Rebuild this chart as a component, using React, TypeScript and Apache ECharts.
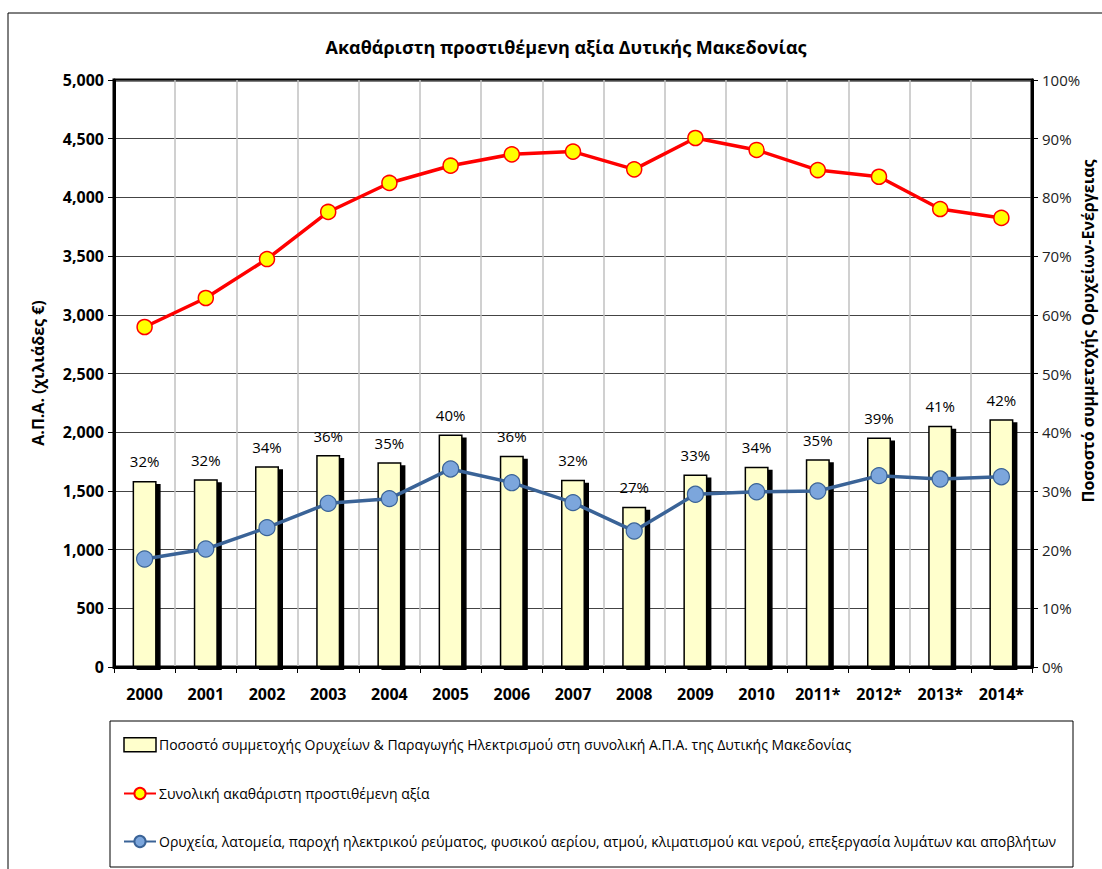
import React, { useEffect, useRef } from "react";
import * as echarts from "echarts";

const years = ["2000", "2001", "2002", "2003", "2004", "2005", "2006", "2007", "2008", "2009", "2010", "2011*", "2012*", "2013*", "2014*"];
const sharePct = [31.7, 32.0, 34.2, 36.1, 34.9, 39.6, 36.0, 31.9, 27.3, 32.8, 34.1, 35.4, 39.1, 41.1, 42.2];
const totalGva = [2896, 3143, 3475, 3876, 4123, 4270, 4367, 4390, 4239, 4506, 4404, 4233, 4176, 3901, 3825];
const miningGva = [920, 1005, 1187, 1394, 1434, 1687, 1570, 1400, 1158, 1471, 1493, 1499, 1630, 1601, 1621];

const titleText = "Ακαθάριστη προστιθέμενη αξία Δυτικής Μακεδονίας";
const leftAxisName = "Α.Π.Α. (χιλιάδες €)";
const rightAxisName = "Ποσοστό συμμετοχής Ορυχείων-Ενέργειας";
const barName = "Ποσοστό συμμετοχής Ορυχείων & Παραγωγής Ηλεκτρισμού στη συνολική Α.Π.Α. της Δυτικής Μακεδονίας";
const totalName = "Συνολική ακαθάριστη προστιθέμενη αξία";
const miningName = "Ορυχεία, λατομεία, παροχή ηλεκτρικού ρεύματος, φυσικού αερίου, ατμού, κλιματισμού και νερού, επεξεργασία λυμάτων και αποβλήτων";

const FONT = "'Open Sans', 'Noto Sans', sans-serif";

export default function App() {
  const ref = useRef<HTMLDivElement>(null);
  useEffect(() => {
    if (!ref.current) return;
    const chart = echarts.init(ref.current, undefined, { renderer: "svg" });
    chart.setOption({
      animation: false,
      backgroundColor: "#fff",
      textStyle: { fontFamily: FONT },
      title: {
        text: titleText,
        left: 561,
        top: 33,
        textAlign: "center",
        textStyle: { fontSize: 18, fontWeight: "bold", color: "#000", fontFamily: FONT },
      },
      grid: {
        left: 114,
        right: 70,
        top: 80,
        bottom: 202,
        show: true,
        borderColor: "#000",
        borderWidth: 3,
      },
      legend: {
        orient: "vertical",
        left: 118,
        top: 732,
        itemGap: 34,
        itemWidth: 32,
        itemHeight: 14,
        textStyle: { fontSize: 14, color: "#000", fontFamily: FONT, padding: [0, 0, 0, -2] },
        data: [
          { name: barName, icon: "rect", itemStyle: { color: "#FFFFCC", borderColor: "#000", borderWidth: 1.5 } },
          { name: totalName },
          { name: miningName },
        ],
      },
      xAxis: {
        type: "category",
        data: years,
        axisLine: { lineStyle: { color: "#000", width: 3 } },
        axisTick: { show: true, length: 6, lineStyle: { color: "#000", width: 1 } },
        axisLabel: { fontSize: 16, fontWeight: "bold", color: "#000", margin: 19, fontFamily: FONT },
        splitLine: { show: true, interval: 0, lineStyle: { color: "#c0c0c0", width: 1.5 } },
      },
      yAxis: [
        {
          type: "value",
          min: 0,
          max: 5000,
          interval: 500,
          position: "left",
          axisLine: { show: true, lineStyle: { color: "#000", width: 3 } },
          axisTick: { show: true, length: 6, lineStyle: { color: "#000", width: 1 } },
          axisLabel: {
            fontSize: 16,
            fontWeight: "bold",
            color: "#000",
            margin: 10,
            fontFamily: FONT,
            formatter: (v: number) => v.toLocaleString("en-US"),
          },
          splitLine: { show: true, lineStyle: { color: "#444", width: 1.2 } },
        },
        {
          type: "value",
          min: 0,
          max: 100,
          interval: 10,
          position: "right",
          axisLine: { show: true, lineStyle: { color: "#000", width: 3 } },
          axisTick: { show: true, length: 6, lineStyle: { color: "#000", width: 1 } },
          axisLabel: { fontSize: 15, color: "#222", margin: 10, fontFamily: FONT, formatter: "{value}%" },
          splitLine: { show: false },
        },
      ],
      graphic: [
        {
          type: "rect",
          shape: { x: 8, y: 13, width: 1110, height: 880 },
          style: { fill: "none", stroke: "#000", lineWidth: 1 },
          silent: true,
          z: -1,
        },
        {
          type: "rect",
          shape: { x: 110, y: 721, width: 963, height: 146 },
          style: { fill: "none", stroke: "#000", lineWidth: 1 },
          silent: true,
        },
        {
          type: "text",
          x: 38,
          y: 373,
          rotation: Math.PI / 2,
          style: {
            text: leftAxisName,
            fontSize: 16,
            fontWeight: "bold",
            fill: "#000",
            fontFamily: FONT,
            align: "center",
            verticalAlign: "middle",
          },
        },
        {
          type: "text",
          x: 1088,
          y: 331,
          rotation: Math.PI / 2,
          style: {
            text: rightAxisName,
            fontSize: 16,
            fontWeight: "bold",
            fill: "#000",
            fontFamily: FONT,
            align: "center",
            verticalAlign: "middle",
          },
        },
      ],
      series: [
        {
          name: barName,
          type: "bar",
          yAxisIndex: 1,
          data: sharePct,
          barWidth: 24,
          itemStyle: {
            color: "#FFFFCC",
            borderColor: "#000",
            borderWidth: 1.5,
            shadowColor: "#000",
            shadowOffsetX: 4,
            shadowOffsetY: 3,
            shadowBlur: 0,
          },
          label: {
            show: true,
            position: "top",
            distance: 12,
            fontSize: 15,
            color: "#000",
            fontFamily: FONT,
            formatter: (p: any) => Math.round(p.value) + "%",
          },
          z: 2,
        },
        {
          name: totalName,
          type: "line",
          yAxisIndex: 0,
          data: totalGva,
          symbol: "circle",
          symbolSize: 15,
          lineStyle: { color: "#FF0000", width: 3.5 },
          itemStyle: { color: "#FFFF00", borderColor: "#FF0000", borderWidth: 1.5 },
          z: 3,
        },
        {
          name: miningName,
          type: "line",
          yAxisIndex: 0,
          data: miningGva,
          symbol: "circle",
          symbolSize: 16,
          lineStyle: { color: "#3A6397", width: 3.5 },
          itemStyle: { color: "#7CA6DC", borderColor: "#3A6397", borderWidth: 1.2 },
          z: 3,
        },
      ],
    });
    return () => chart.dispose();
  }, []);
  return (
    <div
      ref={ref}
      style={{ position: "fixed", left: 0, top: 0, width: 1102, height: 869 }}
    />
  );
}
